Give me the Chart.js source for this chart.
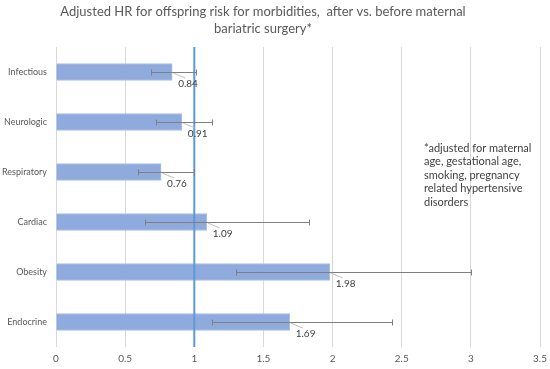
<!DOCTYPE html>
<html>
<head>
<meta charset="utf-8">
<script src="https://cdn.jsdelivr.net/npm/chart.js@4/dist/chart.umd.min.js"></script>
<style>
	html, body { margin: 0; padding: 0; background: #fff; }
	#wrap { width: 550px; height: 369px; position: relative; }
</style>
</head>
<body>
<div id="wrap"><canvas id="Graphe1"></canvas></div>
<script>
document.addEventListener('DOMContentLoaded', function () {

	'use strict';

	// data
	var categories = ['Infectious', 'Neurologic', 'Respiratory', 'Cardiac', 'Obesity', 'Endocrine'];
	var hr = [0.84, 0.91, 0.76, 1.09, 1.98, 1.69];
	var ciLow = [0.69, 0.72, 0.59, 0.64, 1.30, 1.13];
	var ciHigh = [1.01, 1.13, 1.00, 1.83, 3.00, 2.43];
	var xTicks = [0, 0.5, 1, 1.5, 2, 2.5, 3, 3.5];
	var refLine = 1;
	var titleLines = ['Adjusted HR for offspring risk for morbidities,  after vs. before maternal', 'bariatric surgery*'];
	var noteLines = ['*adjusted for maternal', 'age, gestational age,', 'smoking, pregnancy', 'related hypertensive', 'disorders'];

	var font = 'Lato, "Open Sans", sans-serif';

	// error bars, reference line, labels, title and note
	var extras = {
		id: 'extras',
		afterDatasetsDraw: function (chart) {
			var ctx = chart.ctx;
			var xs = chart.scales.x;
			var ys = chart.scales.y;
			var area = chart.chartArea;
			ctx.save();

			// reference line at HR = 1
			var rx = xs.getPixelForValue(refLine);
			ctx.strokeStyle = '#5B9BD5';
			ctx.lineWidth = 2;
			ctx.beginPath();
			ctx.moveTo(rx, area.top);
			ctx.lineTo(rx, area.bottom);
			ctx.stroke();

			// error bars
			ctx.strokeStyle = '#7F7F7F';
			ctx.lineWidth = 1;
			for (var i = 0; i < categories.length; i++) {
				var y = Math.round(ys.getPixelForValue(i)) + 0.5;
				var x1 = Math.round(xs.getPixelForValue(ciLow[i])) + 0.5;
				var x2 = Math.round(xs.getPixelForValue(ciHigh[i])) + 0.5;
				ctx.beginPath();
				ctx.moveTo(x1, y); ctx.lineTo(x2, y);
				ctx.moveTo(x1, y - 3); ctx.lineTo(x1, y + 3);
				ctx.moveTo(x2, y - 3); ctx.lineTo(x2, y + 3);
				ctx.stroke();
			}

			// value labels with leader lines
			ctx.font = '10px ' + font;
			ctx.textAlign = 'left';
			ctx.textBaseline = 'middle';
			for (var j = 0; j < categories.length; j++) {
				var cy = ys.getPixelForValue(j);
				var bx = xs.getPixelForValue(hr[j]);
				ctx.strokeStyle = '#BFBFBF';
				ctx.beginPath();
				ctx.moveTo(bx + 1, cy + 1);
				ctx.lineTo(bx + 13, cy + 6);
				ctx.stroke();
				ctx.fillStyle = '#404040';
				ctx.fillText(hr[j].toFixed(2), bx + 6, cy + 12);
			}

			// title
			ctx.fillStyle = '#595959';
			ctx.font = '13px ' + font;
			ctx.textAlign = 'center';
			ctx.fillText(titleLines[0], 263, 12);
			ctx.fillText(titleLines[1], 263, 29);

			// note
			ctx.fillStyle = '#404040';
			ctx.font = '11px ' + font;
			ctx.textAlign = 'left';
			noteLines.forEach(function (t, k) {
				ctx.fillText(t, 424, 148 + k * 13.5);
			});
			ctx.restore();
		}
	};

	var chart = new Chart(Graphe1, {
		type: 'bar',
		data: {
			labels: categories,
			datasets: [
				{
					label: 'HR',
					data: hr,
					backgroundColor: '#8FAADC',
					borderColor: '#A9BFE6',
					borderWidth: 1,
					barThickness: 17,
				},
			],
		},
		options: {
			indexAxis: 'y',
			responsive: true,
			maintainAspectRatio: false,
			animation: false,
			layout: {
				padding: { top: 47, right: 0, left: 0, bottom: 0 }
			},
			plugins: {
				legend: { display: false },
				tooltip: { enabled: false },
				title: { display: false },
			},
			scales: {
				x: {
					type: 'linear',
					min: 0,
					max: 3.5,
					afterBuildTicks: function (scale) {
						scale.ticks = xTicks.map(function (v) { return { value: v }; });
					},
					afterFit: function (scale) {
						scale.height = 22;
						scale.paddingRight = 10;
						scale.paddingLeft = 0;
					},
					ticks: {
						color: '#595959',
						font: { family: font, size: 10 },
						padding: 6,
						callback: function (v) { return String(v); },
					},
					grid: {
						color: '#D9D9D9',
						drawTicks: false,
					},
					border: { display: false },
				},
				y: {
					afterFit: function (scale) { scale.width = 56; },
					ticks: {
						color: '#595959',
						font: { family: font, size: 9 },
						padding: 9,
					},
					grid: { display: false, drawTicks: false },
					border: { display: false },
				},
			},
		},
		plugins: [extras],
	});
	chart.update();
});
</script>
</body>
</html>
